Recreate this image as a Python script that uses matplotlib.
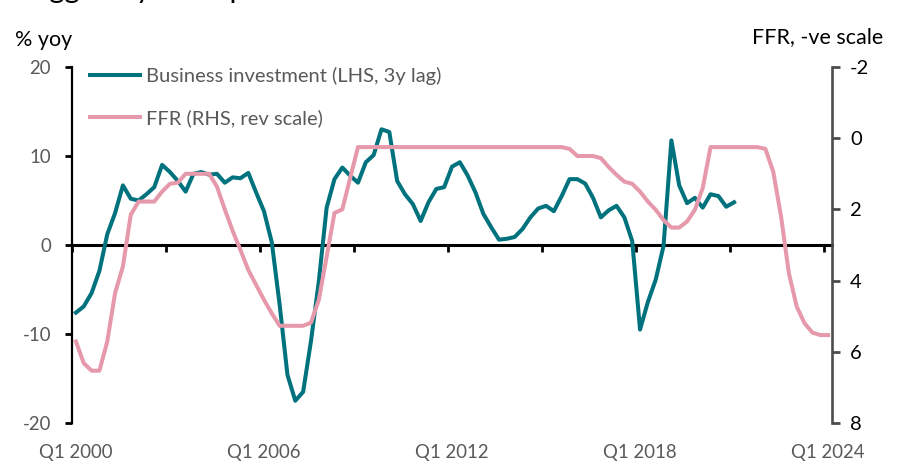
import numpy as np
import matplotlib
matplotlib.use('Agg')
from matplotlib import pyplot as plt
from matplotlib import transforms

plt.rcParams['font.family'] = ['Lato', 'DejaVu Sans']
plt.rcParams['axes.unicode_minus'] = False

# quarterly, Q1 2000 .. Q1 2024
quarter_labels = ['Q1 2000', 'Q1 2006', 'Q1 2012', 'Q1 2018', 'Q1 2024']
label_pos = [0, 24, 48, 72, 96]

# business investment % yoy (3y lag), Q1 2000 .. Q1 2021
bus_inv = [-7.6, -6.9, -5.4, -2.9, 1.2, 3.6, 6.7, 5.2, 5.0, 5.7,
           6.5, 9.0, 8.2, 7.2, 6.0, 8.0, 8.2, 7.9, 8.0, 7.0,
           7.6, 7.5, 8.1, 5.9, 3.8, 0.3, -6.7, -14.6, -17.5, -16.5,
           -10.8, -4.1, 4.2, 7.4, 8.7, 7.8, 7.0, 9.3, 10.1, 13.0,
           12.7, 7.2, 5.7, 4.6, 2.7, 4.8, 6.3, 6.5, 8.8, 9.3,
           7.8, 5.9, 3.5, 2.0, 0.6, 0.7, 0.9, 1.8, 3.1, 4.1,
           4.4, 3.8, 5.5, 7.4, 7.4, 6.9, 5.3, 3.1, 3.9, 4.4,
           3.1, 0.45, -9.5, -6.4, -3.9, -0.1, 11.75, 6.7, 4.7, 5.3,
           4.2, 5.7, 5.5, 4.3, 4.8]

# fed funds rate %, Q1 2000 .. Q1 2024
ffr = [5.71, 6.32, 6.53, 6.53, 5.71, 4.35, 3.6, 2.15, 1.78, 1.78,
       1.78, 1.5, 1.28, 1.25, 1.0, 1.0, 1.0, 1.0, 1.36, 2.0,
       2.6, 3.14, 3.7, 4.12, 4.54, 4.92, 5.27, 5.27, 5.27, 5.27,
       5.18, 4.54, 3.33, 2.1, 2.0, 1.12, 0.25, 0.25, 0.25, 0.25,
       0.25, 0.25, 0.25, 0.25, 0.25, 0.25, 0.25, 0.25, 0.25, 0.25,
       0.25, 0.25, 0.25, 0.25, 0.25, 0.25, 0.25, 0.25, 0.25, 0.25,
       0.25, 0.25, 0.25, 0.3, 0.5, 0.5, 0.5, 0.56, 0.81, 1.03,
       1.22, 1.28, 1.5, 1.78, 2.01, 2.3, 2.51, 2.51, 2.34, 2.01,
       1.4, 0.25, 0.25, 0.25, 0.25, 0.25, 0.25, 0.25, 0.3, 0.94,
       2.2, 3.8, 4.73, 5.2, 5.46, 5.53, 5.53]

teal = '#00727d'
pink = '#e699ab'
grey = '#595959'

W, H = 905, 463
fig = plt.figure(figsize=(W / 100, H / 100), dpi=100)
ax = fig.add_axes([72 / W, 1 - 423 / H, 760 / W, 356 / H])

l1, = ax.plot(np.arange(len(bus_inv)), bus_inv, color=teal, lw=2.9,
              solid_joinstyle='round', zorder=3, label='Business investment (LHS, 3y lag)')
ax.set_xlim(-0.5, len(ffr) - 0.5)
ax.set_ylim(-20, 20)
ax.set_yticks([-20, -10, 0, 10, 20])
ax.tick_params(axis='y', direction='out', length=5, width=2, pad=10,
               labelsize=13.4, labelcolor=grey)

ax.spines['top'].set_visible(False)
ax.spines['right'].set_visible(False)
ax.spines['left'].set_linewidth(1.6)
ax.spines['bottom'].set_position(('data', 0))
ax.spines['bottom'].set_linewidth(2.2)
ax.set_xticks(np.arange(-0.5, len(ffr), 12))
ax.tick_params(axis='x', direction='out', length=5, width=2, labelbottom=False)

trans = transforms.blended_transform_factory(ax.transData, ax.transAxes)
for pos, lab in zip(label_pos, quarter_labels):
    ax.text(pos, -0.0815, lab, transform=trans, ha='center', va='center',
            fontsize=13.4, color=grey)

ax2 = ax.twinx()
l2, = ax2.plot(np.arange(len(ffr)), ffr, color=pink, lw=2.9,
               solid_joinstyle='round', label='FFR (RHS, rev scale)')
ax2.set_ylim(8, -2)
ax2.set_yticks([-2, 0, 2, 4, 6, 8])
ax2.tick_params(axis='y', direction='out', length=6, width=2, pad=7,
                labelsize=14.5, labelcolor='black', color='#4d4d4d')
for s in ['top', 'left', 'bottom']:
    ax2.spines[s].set_visible(False)
ax2.spines['right'].set_linewidth(1.9)
ax2.spines['right'].set_color('#4d4d4d')

leg = ax.legend(handles=[l1, l2], loc='upper left', frameon=False,
                bbox_to_anchor=(90 / W, 1 - 67 / H), bbox_transform=fig.transFigure,
                borderaxespad=0, borderpad=0, handlelength=2.5, handletextpad=0.3,
                labelspacing=1.2, fontsize=14.5)
for t in leg.get_texts():
    t.set_color(grey)

fig.text(15 / W, 1 - 40 / H, '% yoy', fontsize=15.5, va='center', ha='left')
fig.text(883 / W, 1 - 37 / H, 'FFR, -ve scale', fontsize=15.5, va='center', ha='right')

# title sits above the canvas, only its descenders show
fig.text(20 / W, 1 + 2 / H, 'Lagged 3y rates point to weaker investment',
         fontsize=21, va='baseline', ha='left')

fig.savefig('out.png', dpi=100)
